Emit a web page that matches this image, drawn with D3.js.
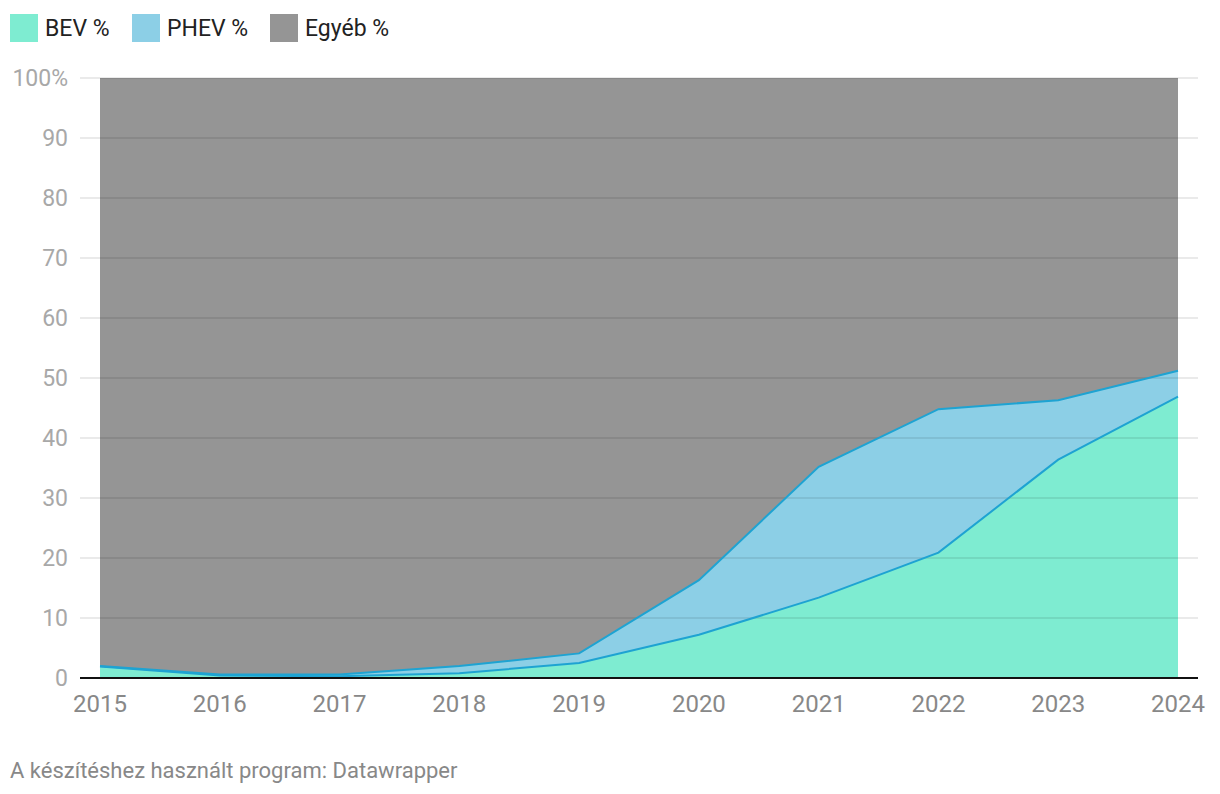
<!DOCTYPE html>
<html><head><meta charset="utf-8">
<script src="https://cdn.jsdelivr.net/npm/d3@7"></script>
<style>
body{margin:0;background:#fff;font-family:Roboto,"Noto Sans",sans-serif;}
svg{display:block}
</style></head>
<body><svg id="c" width="1220" height="794"></svg>
<script>
const years = [2015,2016,2017,2018,2019,2020,2021,2022,2023,2024];
const bev   = [1.9,0.4,0.3,0.8,2.5,7.2,13.4,20.9,36.4,46.9];
const phev  = [0.1,0.2,0.3,1.2,1.6,9.1,21.8,23.9,9.9,4.3];
const seriesNames = ["BEV %","PHEV %","Egyéb %"];
const colors = ["#7eecd1","#8ccfe6","#959595"];
const yTicks = [0,10,20,30,40,50,60,70,80,90,100];

const rows = years.map((y,i)=>({year:y,"BEV %":bev[i],"PHEV %":phev[i],"Egyéb %":100-bev[i]-phev[i]}));
const svg = d3.select("#c");
const x = d3.scaleLinear().domain([2015,2024]).range([100,1178]);
const y = d3.scaleLinear().domain([0,100]).range([678,78]);

const stack = d3.stack().keys(seriesNames)(rows);
const area = d3.area().x(d=>x(d.data.year)).y0(d=>y(d[0])).y1(d=>y(d[1]));
svg.append("g").selectAll("path").data(stack).join("path")
  .attr("d",area).attr("fill",(d,i)=>colors[i]);

// gridlines
const g = svg.append("g");
yTicks.filter(t=>t>0).forEach(t=>{
  g.append("line").attr("x1",80).attr("x2",1198).attr("y1",y(t)).attr("y2",y(t))
   .attr("stroke","rgba(0,0,0,0.11)").attr("stroke-width",1.5);
});

// lines
const line = d3.line().x(d=>x(d.data.year)).y(d=>y(d[1]));
[stack[0],stack[1]].forEach(s=>{
  svg.append("path").attr("d",line(s)).attr("fill","none")
    .attr("stroke","#1ea3d2").attr("stroke-width",2);
});

// baseline
svg.append("line").attr("x1",80).attr("x2",1198).attr("y1",y(0)).attr("y2",y(0))
  .attr("stroke","#111").attr("stroke-width",2);

// y labels
yTicks.forEach(t=>{
  svg.append("text").attr("x",68).attr("y",y(t)+8).attr("text-anchor","end")
   .attr("font-size",23).attr("fill","#a8a8a8").text(t===100?"100%":t);
});
// x labels
years.forEach(yr=>{
  svg.append("text").attr("x",x(yr)).attr("y",712).attr("text-anchor","middle")
   .attr("font-size",24).attr("fill","#888").text(yr);
});

// legend
const legX = [10,132,270];
seriesNames.forEach((n,i)=>{
  svg.append("rect").attr("x",legX[i]).attr("y",14).attr("width",28).attr("height",28).attr("fill",colors[i]);
  svg.append("text").attr("x",legX[i]+35).attr("y",36).attr("font-size",23).attr("fill","#222").text(n);
});

svg.append("text").attr("x",10).attr("y",778).attr("font-size",22).attr("fill","#888")
  .text("A készítéshez használt program: Datawrapper");
</script></body></html>
